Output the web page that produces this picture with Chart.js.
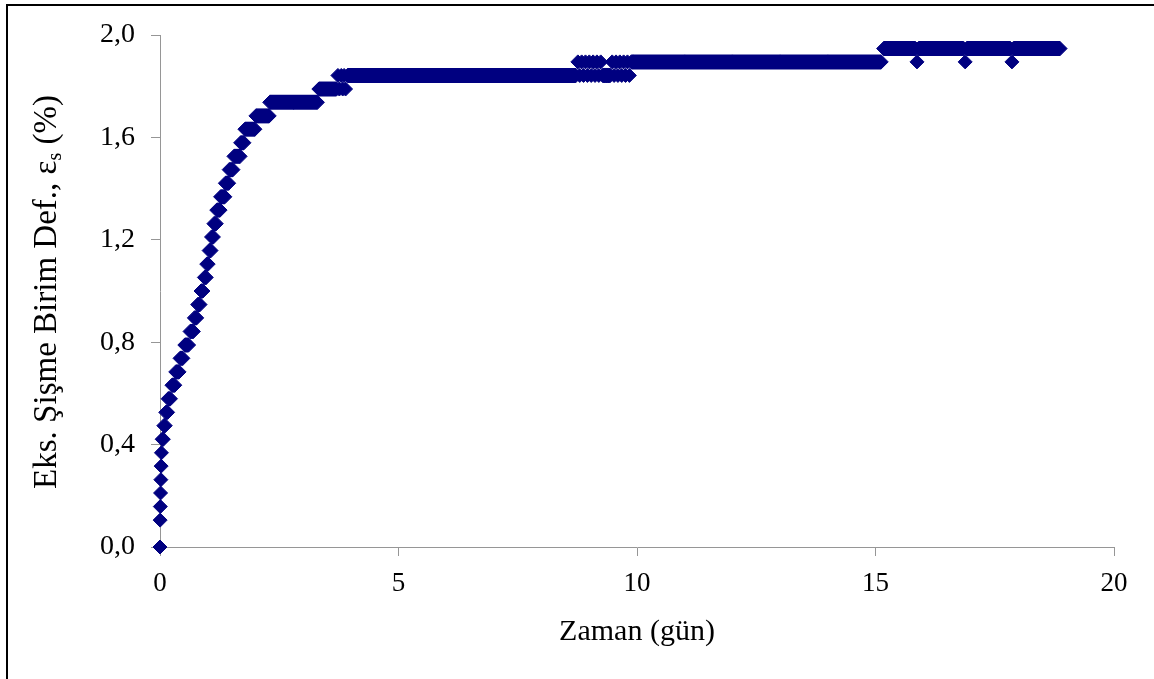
<!DOCTYPE html>
<html>
<head>
<meta charset="utf-8">
<script src="https://cdn.jsdelivr.net/npm/chart.js@4.4.0/dist/chart.umd.min.js"></script>
<style>
  html, body { margin: 0; padding: 0; background: #fff; }
  #kutu { position: relative; width: 1154px; height: 679px; overflow: hidden; }
  #kutu canvas { position: absolute; left: 0; top: 0; }
  #cerceve { position: absolute; left: 6px; top: 4px; right: -10px; bottom: -10px;
             border-left: 2px solid #000; border-top: 2px solid #000; }
</style>
</head>
<body>
<div id="kutu">
  <canvas id="chartCanvas" width="1154" height="679"></canvas>
  <div id="cerceve"></div>
</div>
<script>
// okuma zamanı (gün)
const zaman = [
  0, 0.003, 0.007, 0.012, 0.018, 0.024, 0.03,
  0.045, 0.07, 0.08, 0.11, 0.12, 0.16, 0.17, 0.22, 0.25, 0.31,
  0.33, 0.40, 0.42, 0.48, 0.52, 0.60, 0.63, 0.70, 0.72, 0.77,
  0.79, 0.84, 0.86, 0.90, 0.93, 0.97, 0.98, 1.01, 1.03, 1.07,
  1.08, 1.12, 1.13, 1.18, 1.19, 1.26, 1.27, 1.36, 1.37, 1.44,
  1.45, 1.53, 1.55, 1.68, 1.69, 1.76, 1.78, 1.99, 2.01, 2.29,
  2.30, 2.8, 3.30, 3.33, 3.5, 3.70, 3.73, 3.76, 3.80, 3.83, 3.86, 3.89,
  3.93, 5, 6, 7, 8, 8.72,
  8.76, 8.80, 8.84, 8.88, 8.92, 8.96, 9.00, 9.04, 9.08, 9.12,
  9.16, 9.20, 9.24, 9.28, 9.32, 9.36, 9.40, 9.44, 9.48, 9.52,
  9.56, 9.60, 9.64, 9.68, 9.72, 9.76, 9.80, 9.84, 9.88,
  9.92, 11, 12, 13, 14, 15.12,
  15.17, 15.5, 15.84, 15.87, 15.90, 16.4, 16.85, 16.88,
  16.91, 17.4, 17.83, 17.86, 17.89, 18.4, 18.87
];
// eksenel şişme birim deformasyonu (%)
const sisme = [
  0, 0.105, 0.158, 0.211, 0.263, 0.316, 0.368,
  0.421, 0.421, 0.474, 0.474, 0.526, 0.526, 0.579, 0.579, 0.632, 0.632,
  0.684, 0.684, 0.737, 0.737, 0.789, 0.789, 0.842, 0.842, 0.895, 0.895,
  0.947, 0.947, 1.0, 1.0, 1.053, 1.053, 1.105, 1.105, 1.158, 1.158,
  1.211, 1.211, 1.263, 1.263, 1.316, 1.316, 1.368, 1.368, 1.421, 1.421,
  1.474, 1.474, 1.526, 1.526, 1.579, 1.579, 1.632, 1.632, 1.684, 1.684,
  1.737, 1.737, 1.737, 1.789, 1.789, 1.789, 1.842, 1.789, 1.842, 1.789, 1.842, 1.789,
  1.842, 1.842, 1.842, 1.842, 1.842, 1.842,
  1.895, 1.842, 1.895, 1.842, 1.895, 1.842, 1.895, 1.842, 1.895, 1.842,
  1.895, 1.842, 1.895, 1.842, 1.842, 1.842, 1.842, 1.842, 1.895, 1.842,
  1.895, 1.842, 1.895, 1.842, 1.895, 1.842, 1.895, 1.842, 1.895,
  1.895, 1.895, 1.895, 1.895, 1.895, 1.895,
  1.947, 1.947, 1.947, 1.895, 1.947, 1.947, 1.947, 1.895,
  1.947, 1.947, 1.947, 1.895, 1.947, 1.947, 1.947
];
const xSinir = [0, 20];
const ySinir = [0, 2];
const xAdim = 5;
const yAdim = 0.4;

const lacivert = '#000080';
const gri = '#969696';
const yazi = 'Liberation Serif, Times New Roman, serif';

// y ekseni başlığı, alt indisli epsilon ile
const yBaslik = {
  id: 'yBaslik',
  afterDraw(chart) {
    const ctx = chart.ctx;
    const parcalar = [
      ['Eks. Şişme Birim Def., ε', '33px ' + yazi, 0],
      ['s', '20px ' + yazi, 5],
      [' (%)', '33px ' + yazi, 0]
    ];
    ctx.save();
    ctx.fillStyle = '#000';
    ctx.textBaseline = 'alphabetic';
    let toplam = 0;
    parcalar.forEach(p => { ctx.font = p[1]; p.push(ctx.measureText(p[0]).width); toplam += p[3]; });
    ctx.translate(56, 292);
    ctx.rotate(-Math.PI / 2);
    let x = -toplam / 2;
    parcalar.forEach(p => {
      ctx.font = p[1];
      ctx.fillText(p[0], x, p[2]);
      x += p[3];
    });
    ctx.restore();
  }
};

const noktalar = zaman.map((t, i) => ({ x: t, y: sisme[i] }));

const ctx = document.getElementById('chartCanvas').getContext('2d');
window.myChart = new Chart(ctx, {
  type: 'scatter',
  data: {
    datasets: [{
      label: 'Şişme',
      data: noktalar,
      showLine: true,
      // aynı seviyedeki ardışık okumalar bitişik işaretlerle kalın bir bant oluşturur
      borderWidth: 15,
      borderCapStyle: 'butt',
      borderColor: lacivert,
      segment: {
        borderColor: c => c.p0.parsed.y === c.p1.parsed.y ? lacivert : 'rgba(0,0,0,0)'
      },
      tension: 0,
      pointStyle: 'rectRot',
      pointRadius: 7,
      pointBorderWidth: 1,
      pointBackgroundColor: lacivert,
      pointBorderColor: lacivert,
      clip: false
    }]
  },
  options: {
    responsive: false,
    animation: false,
    layout: { padding: { top: 35, right: 40, left: 0, bottom: 0 } },
    plugins: { legend: { display: false }, tooltip: { enabled: false } },
    scales: {
      x: {
        type: 'linear',
        min: xSinir[0],
        max: xSinir[1],
        afterFit: s => { s.height = 132; },
        border: { display: true, color: gri, width: 1 },
        grid: { drawOnChartArea: false, drawTicks: true, tickLength: 9, color: gri },
        ticks: {
          stepSize: xAdim,
          color: '#000',
          padding: 12,
          maxRotation: 0,
          font: { family: yazi, size: 27 }
        },
        title: {
          display: true,
          text: 'Zaman (gün)',
          color: '#000',
          font: { family: yazi, size: 30 },
          padding: { top: 0, bottom: 29 }
        }
      },
      y: {
        min: ySinir[0],
        max: ySinir[1],
        afterFit: s => { s.width = 160; },
        border: { display: true, color: gri, width: 1 },
        grid: { drawOnChartArea: false, drawTicks: true, tickLength: 9, color: gri },
        ticks: {
          stepSize: yAdim,
          color: '#000',
          padding: 16,
          font: { family: yazi, size: 28 },
          callback: v => v.toFixed(1).replace('.', ',')
        }
      }
    }
  },
  plugins: [yBaslik]
});
</script>
</body>
</html>
